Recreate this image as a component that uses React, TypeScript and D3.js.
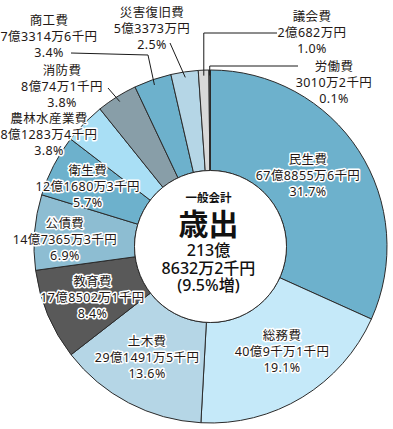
import React from 'react';
import * as d3 from 'd3';

// 歳出 内訳 (単位: 千円)
const names = ['民生費', '総務費', '土木費', '教育費', '公債費', '衛生費', '農林水産業費', '消防費', '商工費', '災害復旧費', '議会費', '労働費'];
const values = [6788556, 4090001, 2914915, 1785021, 1473653, 1216803, 812834, 800741, 733146, 533730, 206820, 30102];
const amounts = ['67億8855万6千円', '40億9千万1千円', '29億1491万5千円', '17億8502万1千円', '14億7365万3千円', '12億1680万3千円', '8億1283万4千円', '8億74万1千円', '7億3314万6千円', '5億3373万円', '2億682万円', '3010万2千円'];
const percents = ['31.7%', '19.1%', '13.6%', '8.4%', '6.9%', '5.7%', '3.8%', '3.8%', '3.4%', '2.5%', '1.0%', '0.1%'];
const colors = ['#6db1cc', '#c5e9f9', '#b5d6e6', '#595959', '#8dbdd2', '#6db1cc', '#a9dff5', '#889ea8', '#6db1cc', '#b5d6e6', '#d9d9d9', '#595959'];
const centerLines = ['213億', '8632万2千円', '(9.5%増)'];

const W = 393;
const H = 429;
const cx = 210.5;
const cy = 246.5;
const outerR = 176.5;
const innerR = 76;

// labels inside the ring: nudge from the centroid
const insideNudge: Record<string, [number, number]> = {
  '民生費': [-10, -2],
  '総務費': [5, -5],
  '土木費': [-4, -3],
  '教育費': [0, 1],
  '公債費': [-18, 3],
  '衛生費': [-9, -2],
};

// labels outside the ring: text position + leader start/elbow
const outside: Record<string, { x: number; y: number; line: [number, number][]; elbow?: 'h' }> = {
  '商工費': { x: 49, y: 36, line: [[71, 53], [148, 55]] },
  '災害復旧費': { x: 152, y: 28, line: [[170, 43]] },
  '消防費': { x: 62, y: 86, line: [[108, 88]] },
  '農林水産業費': { x: 49, y: 134, line: [] },
  '議会費': { x: 312, y: 32, line: [[277, 33]], elbow: 'h' },
  '労働費': { x: 334, y: 82, line: [[298, 66]], elbow: 'h' },
};

const textColor = '#231815';
const font = '"Noto Sans", "Noto Sans CJK JP", sans-serif';

export default function App() {
  const pie = d3.pie<number>().sort(null).value(d => d);
  const arcs = pie(values);
  const arc = d3.arc<d3.PieArcDatum<number>>().innerRadius(innerR).outerRadius(outerR);
  const labelArc = d3.arc<d3.PieArcDatum<number>>().innerRadius(128).outerRadius(128);
  const edgeArc = d3.arc<d3.PieArcDatum<number>>().innerRadius(171).outerRadius(171);

  const halo = { paintOrder: 'stroke' as const, stroke: '#fff', strokeWidth: 3, strokeLinejoin: 'round' as const };

  return (
    <svg width={W} height={H} style={{ position: 'absolute', left: 0, top: 0, background: '#fff' }} fontFamily={font}>
      <g transform={`translate(${cx},${cy})`}>
        {arcs.map((a, i) => (
          <path key={names[i]} d={arc(a) || ''} fill={colors[i]} stroke="#2b2b2b" strokeWidth={1} />
        ))}
        <circle r={innerR} fill="#fff" stroke="#2b2b2b" strokeWidth={1} />
      </g>

      {/* leader lines */}
      {arcs.map((a, i) => {
        const o = outside[names[i]];
        if (!o || o.line.length === 0) return null;
        const [ex, ey] = edgeArc.centroid(a);
        const end: [number, number] = [ex + cx, ey + cy];
        const pts = [...o.line];
        if (o.elbow === 'h') pts.push([end[0], o.line[0][1]]);
        pts.push(end);
        return (
          <polyline key={'l' + i} points={pts.map(p => p.join(',')).join(' ')} fill="none" stroke="#1a1a1a" strokeWidth={1} />
        );
      })}

      {/* slice labels */}
      {arcs.map((a, i) => {
        const name = names[i];
        let x: number, y: number;
        if (outside[name]) {
          x = outside[name].x;
          y = outside[name].y;
        } else {
          const [lx, ly] = labelArc.centroid(a);
          const n = insideNudge[name] || [0, 0];
          x = lx + cx + n[0];
          y = ly + cy + n[1];
        }
        return (
          <text key={'t' + i} x={x} y={y} textAnchor="middle" fontSize={12.5} letterSpacing={0.4} fill={textColor} dominantBaseline="central" style={halo}>
            <tspan x={x} dy={-16}>{name}</tspan>
            <tspan x={x} dy={16}>{amounts[i]}</tspan>
            <tspan x={x} dy={16}>{percents[i]}</tspan>
          </text>
        );
      })}

      {/* centre */}
      <text fill="#111" textAnchor="middle" dominantBaseline="central">
        <tspan x={cx - 2} y={197} fontSize={11.5} fontWeight={700}>一般会計</tspan>
        <tspan x={cx - 2} y={223} fontSize={30} fontWeight={700}>歳出</tspan>
        {centerLines.map((t, i) => (
          <tspan key={t} x={cx - 2} y={250 + i * 17.5} fontSize={16} fontWeight={500}>{t}</tspan>
        ))}
      </text>
    </svg>
  );
}
